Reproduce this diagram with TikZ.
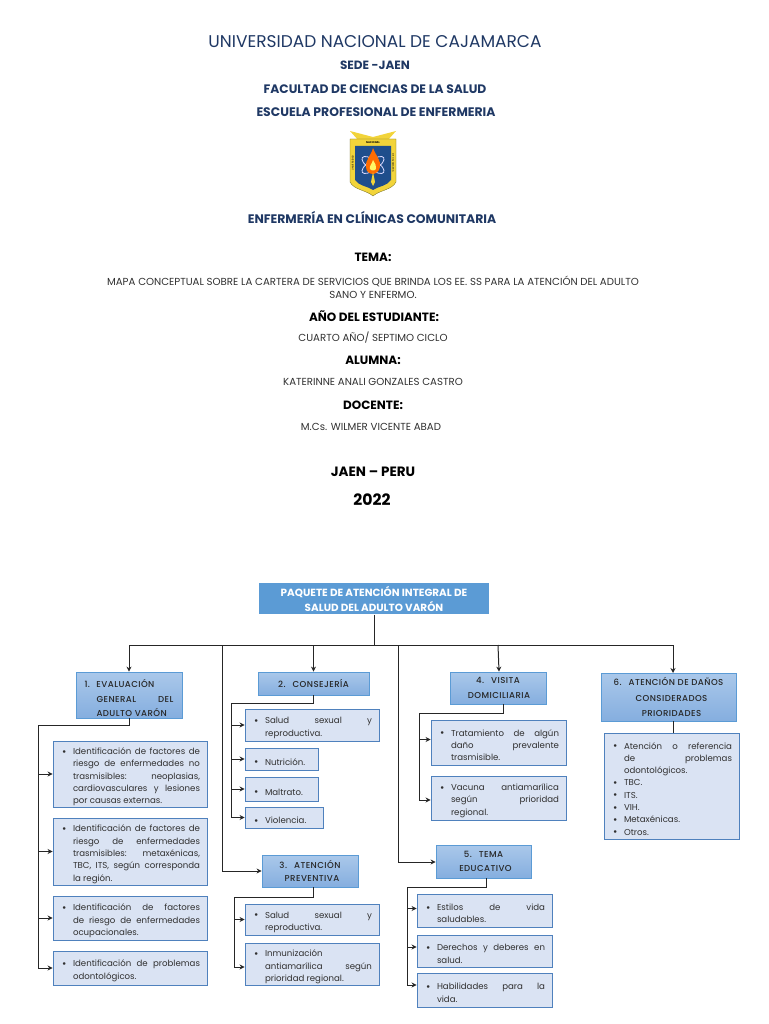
\documentclass[tikz,border=0pt]{standalone}
\usepackage{fontspec}
\setmainfont{Poppins}
\newfontfamily\headfont[LetterSpace=5,UprightFont=*-Medium]{Poppins}
\usepackage{tikz}
\usetikzlibrary{arrows.meta, calc}
\definecolor{navyink}{HTML}{1F3864}
\definecolor{figink}{HTML}{262626}
\definecolor{bodyink}{HTML}{303030}
\definecolor{rootblue}{HTML}{5B9BD5}
\definecolor{edgeblue}{HTML}{5B9BD5}
\definecolor{itemfill}{HTML}{DAE3F3}
\definecolor{itemedge}{HTML}{4F81BD}
\definecolor{shieldgold}{HTML}{F2D43A}
\definecolor{shieldblue}{HTML}{1F4E8C}
\definecolor{cattop}{HTML}{AAC8EA}
\definecolor{catbot}{HTML}{85AEDF}
\tolerance=9999
\hbadness=10000
\hfuzz=3pt
\newcommand{\bul}[1]{\par\noindent\hangindent=13pt\hangafter=1\hbox to 13pt{\hspace{2pt}\smash{\raisebox{-0.6pt}{\fontsize{10.5}{10.5}\selectfont\textbullet}}\hss}#1\par}
\newcommand{\numb}[2]{\par\noindent\hangindent=12pt\hangafter=1\hbox to 12pt{#1\hss}#2\par}

\begin{document}
\begin{tikzpicture}[
  x=1pt, y=-1pt,
  line width=1pt, line join=miter,
  >={Stealth[length=5pt,width=5pt]},
  ttl/.style = {font=\fontsize{#1}{#1}\selectfont\bfseries, color=navyink, inner sep=0pt, anchor=center},
  hdg/.style = {font=\fontsize{#1}{#1}\selectfont\bfseries, color=black, inner sep=0pt, anchor=center},
  txt/.style = {font=\fontsize{10.2}{13}\selectfont, color=bodyink, inner sep=0pt, anchor=center, align=center},
  rootbox/.style = {fill=rootblue, draw=none, anchor=center, inner sep=0pt, align=center,
                    minimum width=230pt, minimum height=31pt, text=white,
                    font=\fontsize{10.4}{15}\selectfont\bfseries},
  catbox/.style = {draw=edgeblue, line width=0.8pt, top color=cattop, bottom color=catbot, anchor=center,
                   inner sep=0pt, align=center, text=figink,
                   font=\fontsize{8.6}{15.5}\headfont},
  itembox/.style = {draw=itemedge, line width=0.9pt, fill=itemfill, anchor=center,
                    inner xsep=7pt, inner ysep=0pt, align=justify, text=bodyink,
                    font=\fontsize{8.6}{12.3}\selectfont},
  link/.style = {draw=figink, line width=1pt}
]

\useasboundingbox (0,0) rectangle (768,1024);

% portada
\node[ttl=17, font=\fontsize{17}{17}\selectfont] (uni) at (375,42) {UNIVERSIDAD NACIONAL DE CAJAMARCA};
\node[ttl=12] (sede) at (375,65) {SEDE -JAEN};
\node[ttl=12.3] (fac) at (375,89) {FACULTAD DE CIENCIAS DE LA SALUD};
\node[ttl=12.4] (esc) at (376,112) {ESCUELA PROFESIONAL DE ENFERMERIA};
\node[ttl=12.4] (cur) at (372,217) {ENFERMERÍA EN CLÍNICAS COMUNITARIA};

\node[hdg=12] (tema) at (373,257) {TEMA:};
\node[txt] (mapa) at (373,287.5) {MAPA CONCEPTUAL SOBRE LA CARTERA DE SERVICIOS QUE BRINDA LOS EE. SS PARA LA ATENCIÓN DEL ADULTO\\SANO Y ENFERMO.};
\node[hdg=12] (anio) at (374,316) {AÑO DEL ESTUDIANTE:};
\node[txt] (ciclo) at (373,338) {CUARTO AÑO/ SEPTIMO CICLO};
\node[hdg=12] (alum) at (373,360) {ALUMNA:};
\node[txt] (kat) at (373,382) {KATERINNE ANALI GONZALES CASTRO};
\node[hdg=12] (doc) at (373,405) {DOCENTE:};
\node[txt] (wil) at (371,427) {M.Cs. WILMER VICENTE ABAD};
\node[hdg=13.5] (jaen) at (373,472) {JAEN – PERU};
\node[hdg=15.7] (anno) at (372,500) {2022};

% escudo
\fill[shieldgold] (350,131) -- (373,137) -- (396,131) -- (388,140) -- (358,140) -- cycle;
\fill[shieldgold, draw=olive!70!black, line width=0.3pt] (350,139) -- (396,139) -- (396,182) .. controls (392,190) and (380,190) .. (373,196) .. controls (366,190) and (354,190) .. (350,182) -- cycle;
\fill[shieldblue] (355,146) -- (391,146) -- (391,180) .. controls (387,186) and (379,186) .. (373,190) .. controls (367,186) and (359,186) .. (355,180) -- cycle;
\draw[white!85!blue, line width=0.8pt] (373,165) ellipse [x radius=13, y radius=5, rotate=35];
\draw[white!85!blue, line width=0.8pt] (373,165) ellipse [x radius=13, y radius=5, rotate=-35];
\fill[orange!85!red] (373,148) .. controls (376,156) and (381,160) .. (380,167) .. controls (379,172) and (375,174) .. (373,174) .. controls (370,174) and (366,172) .. (366,167) .. controls (365,160) and (371,156) .. (373,148) -- cycle;
\fill[yellow!60!white] (373,160) .. controls (375,164) and (377,166) .. (376,169) .. controls (375,171) and (371,171) .. (370,169) .. controls (369,166) and (372,164) .. (373,160) -- cycle;
\fill[shieldgold] (373,172) -- (375,182) -- (373,186) -- (371,182) -- cycle;
\node[font=\fontsize{2.6}{3}\selectfont\bfseries, inner sep=0pt, text=black] (crtop) at (373,143) {NACIONAL};
\node[font=\fontsize{2.4}{3}\selectfont, inner sep=0pt, text=black, rotate=-90] (crr) at (393.3,163) {DE CAJAMARCA};
\node[font=\fontsize{2.4}{3}\selectfont, inner sep=0pt, text=black, rotate=90] (crl) at (352.7,163) {UNIVERSIDAD};

% cajas principales
\node[rootbox] (root) at (374,598.5) {PAQUETE DE ATENCIÓN INTEGRAL DE\\SALUD DEL ADULTO VARÓN};
\node[catbox, minimum width=106pt, minimum height=46pt, text width=89pt, align=justify, font=\fontsize{8.6}{14.5}\headfont] (eval) at (129,695)
  {\numb{1.}{EVALUACIÓN\newline GENERAL DEL\linebreak ADULTO VARÓN}};
\node[catbox, minimum width=111pt, minimum height=23pt] (cons) at (313.5,683.5) {2.\hspace{7pt}CONSEJERÍA};
\node[catbox, minimum width=96pt, minimum height=32pt, font=\fontsize{8.6}{13.5}\headfont] (prev) at (310,871) {3.\hspace{7pt}ATENCIÓN\\\hspace{4pt}PREVENTIVA};
\node[catbox, minimum width=96pt, minimum height=32pt, font=\fontsize{8.6}{14.5}\headfont] (visi) at (498,688) {4.\hspace{7pt}VISITA\\\hspace{2pt}DOMICILIARIA};
\node[catbox, minimum width=95pt, minimum height=33pt, font=\fontsize{8.6}{14}\headfont] (edu) at (483.5,861.5) {5.\hspace{7pt}TEMA\\\hspace{4pt}EDUCATIVO};
\node[catbox, minimum width=135pt, minimum height=48pt] (dano) at (668.5,697) {6.\hspace{7pt}ATENCIÓN DE DAÑOS\\\hspace{6pt}CONSIDERADOS\\\hspace{6pt}PRIORIDADES};

% columna 1
\node[itembox, minimum width=154pt, text width=140pt, minimum height=66pt] (ev1) at (130,774)
  {\bul{Identificación de factores de\linebreak riesgo de enfermedades no\linebreak trasmisibles: neoplasias,\linebreak cardiovasculares y lesiones\linebreak por causas externas.}};
\node[itembox, minimum width=154pt, text width=140pt, minimum height=67pt] (ev2) at (130,851.5)
  {\bul{Identificación de factores de\linebreak riesgo de enfermedades\linebreak trasmisibles: metaxénicas,\linebreak TBC, ITS, según corresponda\linebreak la región.}};
\node[itembox, minimum width=154pt, text width=140pt, minimum height=44pt] (ev3) at (130,918)
  {\bul{Identificación de factores\linebreak de riesgo de enfermedades\linebreak ocupacionales.}};
\node[itembox, minimum width=154pt, text width=140pt, minimum height=34pt] (ev4) at (130,968)
  {\bul{Identificación de problemas\linebreak odontológicos.}};

% columna 2
\node[itembox, minimum width=134pt, text width=120pt, minimum height=32pt] (co1) at (312,725)
  {\bul{Salud sexual y\linebreak reproductiva.}};
\node[itembox, minimum width=73pt, text width=59pt, minimum height=22pt] (co2) at (281.5,759) {\bul{Nutrición.}};
\node[itembox, minimum width=73pt, text width=59pt, minimum height=24pt] (co3) at (281.5,789) {\bul{Maltrato.}};
\node[itembox, minimum width=78pt, text width=64pt, minimum height=21pt] (co4) at (284,817.5) {\bul{Violencia.}};
\node[itembox, minimum width=134pt, text width=120pt, minimum height=31pt] (pr1) at (312,919.5)
  {\bul{Salud sexual y\linebreak reproductiva.}};
\node[itembox, minimum width=134pt, text width=120pt, minimum height=42pt] (pr2) at (312,964)
  {\bul{Inmunización\newline antiamarílica según\linebreak prioridad regional.}};

% columna 3
\node[itembox, minimum width=135pt, text width=121pt, minimum height=45pt] (vi1) at (498.5,742.5)
  {\bul{Tratamiento de algún\linebreak daño prevalente\linebreak trasmisible.}};
\node[itembox, minimum width=135pt, text width=121pt, minimum height=44pt] (vi2) at (498.5,798)
  {\bul{Vacuna antiamarílica\linebreak según prioridad\linebreak regional.}};
\node[itembox, minimum width=135pt, text width=121pt, minimum height=33pt] (ed1) at (484.5,910.5)
  {\bul{Estilos de vida\linebreak saludables.}};
\node[itembox, minimum width=135pt, text width=121pt, minimum height=32pt] (ed2) at (484.5,951)
  {\bul{Derechos y deberes en\linebreak salud.}};
\node[itembox, minimum width=135pt, text width=121pt, minimum height=34pt] (ed3) at (484.5,990)
  {\bul{Habilidades para la\linebreak vida.}};

% columna 4
\node[itembox, minimum width=135pt, text width=121pt, minimum height=106pt] (da1) at (671.5,786)
  {\bul{Atención o referencia\linebreak de problemas\linebreak odontológicos.}
   \bul{TBC.}
   \bul{ITS.}
   \bul{VIH.}
   \bul{Metaxénicas.}
   \bul{Otros.}};

% conectores
\coordinate (bus) at (374,645);
\coordinate (brp) at (222,645);
\coordinate (bre) at (398,645);
\draw[link] (root.south) -- (bus);
\draw[link, ->] (bus) -- (eval.north |- bus) -- (eval.north);
\draw[link, ->] (cons.north |- bus) -- (cons.north);
\draw[link, ->] (bus) -- (673,645) -- (673,673);
\draw[link, ->] (visi.north |- bus) -- ([xshift=1pt]visi.north);
\draw[link, ->] (brp) |- (prev.west);
\draw[link, ->] (bre) |- ([yshift=-0.5pt]edu.west);

\coordinate (spe) at (38,725);
\draw[link] (eval.south) |- (spe) -- (spe |- ev4.west);
\foreach \it in {ev1,ev2,ev3,ev4}
  \draw[link, ->] (spe |- \it.west) -- (\it.west);

\coordinate (spc) at (231,703);
\draw[link] (cons.south) |- (spc) -- (spc |- co4.west);
\foreach \it in {co1,co2,co3,co4}
  \draw[link, ->] (spc |- \it.west) -- (\it.west);

\coordinate (spp) at (234,897);
\draw[link] ([xshift=3pt]prev.south) |- (spp) -- ($(spp |- pr2.west)+(0,3)$);
\draw[link, ->] (spp |- pr1.west) -- (pr1.west);
\draw[link, ->] ($(spp |- pr2.west)+(0,3)$) -- ([yshift=-3pt]pr2.west);

\coordinate (spv) at (419,713);
\draw[link] ([xshift=5pt]visi.south) |- (spv) -- ($(spv |- vi2.west)+(0,2)$);
\draw[link, ->] ($(spv |- vi1.west)+(0,-3)$) -- ([yshift=3pt]vi1.west);
\draw[link, ->] ($(spv |- vi2.west)+(0,2)$) -- ([yshift=-2pt]vi2.west);

\coordinate (spd) at (407,887);
\draw[link] ([xshift=2.5pt]edu.south) |- (spd) -- ($(spd |- ed3.west)+(0,-5)$);
\draw[link, ->] ($(spd |- ed1.west)+(0,-2)$) -- ([yshift=2pt]ed1.west);
\draw[link, ->] ($(spd |- ed2.west)+(0,-4)$) -- ([yshift=4pt]ed2.west);
\draw[link, ->] ($(spd |- ed3.west)+(0,-5)$) -- ([yshift=5pt]ed3.west);

\draw[link] ([xshift=4.5pt]dano.south) -- ([xshift=1.5pt]da1.north);

\end{tikzpicture}
\end{document}
